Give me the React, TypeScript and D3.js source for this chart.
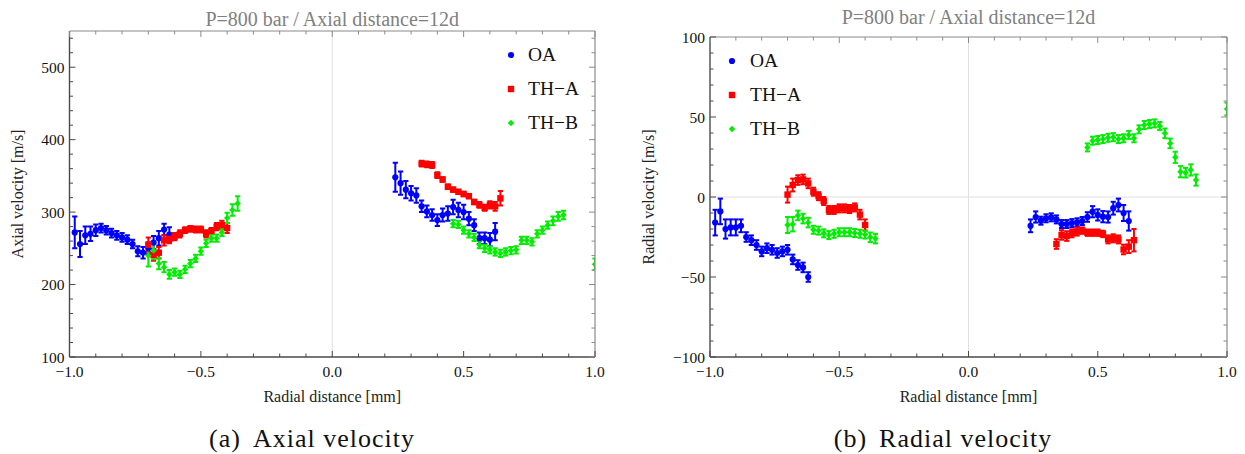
import React from "react";
import * as d3 from "d3";

// ---------- DATA ----------
const xTicks = [-1.0, -0.5, 0.0, 0.5, 1.0];
const axialYTicks = [100, 200, 300, 400, 500];
const radialYTicks = [-100, -50, 0, 50, 100];
const seriesNames = ["OA", "TH−A", "TH−B"];

// Axial velocity panel
const oaAxL_x = [-0.98, -0.96, -0.94, -0.92, -0.9, -0.88, -0.86, -0.84, -0.82, -0.8, -0.78, -0.76, -0.74, -0.72, -0.7, -0.68, -0.66, -0.64, -0.62];
const oaAxL_y = [272, 256, 268, 270, 275, 278, 275, 271, 268, 265, 262, 256, 246, 244, 250, 258, 264, 276, 269];
const oaAxL_e = [22, 18, 12, 10, 8, 6, 6, 6, 6, 6, 6, 6, 7, 8, 8, 9, 10, 8, 10];
const oaAxR_x = [0.24, 0.26, 0.28, 0.3, 0.32, 0.34, 0.36, 0.38, 0.4, 0.42, 0.44, 0.46, 0.48, 0.5, 0.52, 0.54, 0.56, 0.58, 0.6, 0.62];
const oaAxR_y = [348, 340, 331, 326, 323, 308, 301, 296, 289, 296, 298, 307, 303, 300, 291, 282, 264, 264, 262, 273];
const oaAxR_e = [20, 16, 12, 10, 10, 8, 8, 8, 8, 9, 10, 10, 10, 10, 9, 8, 8, 8, 9, 12];

const thAAxL_x = [-0.7, -0.68, -0.66, -0.64, -0.62, -0.6, -0.58, -0.56, -0.54, -0.52, -0.5, -0.48, -0.46, -0.44, -0.42, -0.4];
const thAAxL_y = [255, 241, 244, 261, 263, 266, 270, 275, 277, 276, 276, 270, 274, 280, 282, 278];
const thAAxL_e = [10, 8, 8, 7, 6, 5, 5, 4, 4, 4, 4, 5, 4, 5, 6, 7];
const thAAxR_x = [0.34, 0.36, 0.38, 0.4, 0.42, 0.44, 0.46, 0.48, 0.5, 0.52, 0.54, 0.56, 0.58, 0.6, 0.62, 0.64];
const thAAxR_y = [367, 366, 365, 351, 345, 335, 331, 328, 325, 322, 314, 310, 306, 310, 308, 319];
const thAAxR_e = [4, 4, 4, 4, 3, 3, 3, 3, 3, 3, 3, 4, 4, 5, 6, 10];

const thBAxL_x = [-0.7, -0.68, -0.66, -0.64, -0.62, -0.6, -0.58, -0.56, -0.54, -0.52, -0.5, -0.48, -0.46, -0.44, -0.42, -0.4, -0.38, -0.36];
const thBAxL_y = [240, 247, 229, 224, 214, 217, 214, 221, 229, 236, 246, 257, 264, 264, 272, 292, 303, 312];
const thBAxL_e = [15, 12, 8, 7, 6, 5, 5, 5, 5, 5, 5, 5, 5, 5, 5, 7, 8, 10];
const thBAxR_x = [0.46, 0.48, 0.5, 0.52, 0.54, 0.56, 0.58, 0.6, 0.62, 0.64, 0.66, 0.68, 0.7, 0.72, 0.74, 0.76, 0.78, 0.8, 0.82, 0.84, 0.86, 0.88, 1.0];
const thBAxR_y = [284, 283, 275, 270, 265, 255, 250, 248, 245, 243, 245, 247, 248, 261, 261, 259, 270, 275, 282, 288, 294, 296, 228];
const thBAxR_e = [5, 5, 5, 5, 5, 5, 5, 5, 5, 5, 5, 5, 5, 5, 5, 5, 5, 5, 5, 6, 6, 6, 8];

// Radial velocity panel
const oaRadL_x = oaAxL_x;
const oaRadL_y = [-16, -9, -20, -19, -19, -18, -25, -27, -30, -34, -32, -33, -35, -34, -33, -39, -42.5, -44, -50];
const oaRadL_e = [8, 8, 6, 5, 5, 4, 3, 3, 3, 3, 3, 3, 3, 3, 3, 3, 3, 3, 3];
const oaRadR_x = oaAxR_x;
const oaRadR_y = [-18, -12.5, -14.8, -13.3, -12.7, -14, -16.9, -16.9, -16.3, -15.8, -15, -12.5, -9.2, -11.2, -12.3, -12.5, -7, -5, -10, -15];
const oaRadR_e = [4, 3.5, 2.5, 2.5, 2.5, 2.5, 2.5, 2.5, 2.5, 2.5, 2.5, 3, 3.5, 3.5, 3.5, 3.5, 4, 4, 5, 6];

const thARadL_x = thAAxL_x;
const thARadL_y = [1.5, 7.5, 10.6, 11, 8.5, 3.3, 0.5, -2.5, -8.1, -8.1, -7.1, -7.1, -7.5, -6.5, -11, -17.5];
const thARadL_e = [5, 4, 3, 3, 3, 2.5, 2.5, 2.5, 2.5, 2.5, 2.5, 2.5, 2.5, 2.5, 3, 3.5];
const thARadR_x = thAAxR_x;
const thARadR_y = [-29.4, -23.7, -24.4, -22.7, -21.6, -21, -22.3, -22.3, -22.3, -23.1, -26.5, -25.8, -26.5, -32.8, -31, -27];
const thARadR_e = [3, 3, 3, 2.5, 2.5, 2, 2, 2, 2, 2, 2.5, 2.5, 2.5, 3, 4, 7];

const thBRadL_x = thBAxL_x;
const thBRadL_y = [-17.5, -17, -11.5, -13.5, -16, -20.5, -21, -22.7, -23.8, -23, -22, -22, -22, -22.5, -23, -23.5, -25.2, -26];
const thBRadL_e = [5, 4.5, 3, 3, 3, 2.5, 2.5, 2.5, 2.5, 2.5, 2.5, 2.5, 2.5, 2.5, 2.5, 2.5, 3, 3];
const thBRadR_x = thBAxR_x;
const thBRadR_y = [31, 35.2, 35.6, 36.2, 37, 37.4, 36.2, 36.7, 38.8, 36.7, 42.3, 45, 45.6, 46, 44.4, 39.8, 33.5, 24.8, 15.8, 15.2, 16.9, 10.6, 55];
const thBRadR_e = [2.5, 2.5, 2.5, 2.5, 2.5, 2.5, 2.5, 2.5, 2.5, 2.5, 2.5, 2.5, 2.5, 2.5, 2.5, 3, 3, 3.5, 3.5, 3, 3.5, 3.5, 4];

// ---------- RENDER ----------
type Pt = { x: number; y: number; e: number };
const zip = (xs: number[], ys: number[], es: number[]): Pt[] => xs.map((x, i) => ({ x, y: ys[i], e: es[i] }));

const COLORS = ["#0000ff", "#ff0000", "#00ee00"];
const FONT = "Liberation Serif, Times New Roman, serif";
const fontStyle = { fontFamily: FONT } as React.CSSProperties;

interface PanelProps {
  id: string;
  frame: { x0: number; x1: number; y0: number; y1: number };
  yDomain: [number, number];
  yTicks: number[];
  yMinor: number;
  series: Pt[][];
  titleY: number;
  ylabel: string;
  ylabelX: number;
  legend: { mx: number; tx: number; ys: number[] };
  caption: [string, string];
  captionX: number;
  zeroH: boolean;
}

function Marker({ kind, x, y, color }: { kind: number; x: number; y: number; color: string }) {
  if (kind === 0) return <circle cx={x} cy={y} r={3.1} fill={color} />;
  if (kind === 1) return <rect x={x - 3.2} y={y - 3.2} width={6.4} height={6.4} fill={color} />;
  const s = 3.2;
  return <path d={`M${x},${y - s}L${x + s},${y}L${x},${y + s}L${x - s},${y}Z`} fill={color} />;
}

function Panel(p: PanelProps) {
  const { x0, x1, y0, y1 } = p.frame;
  const xs = d3.scaleLinear().domain([-1, 1]).range([x0, x1]);
  const ys = d3.scaleLinear().domain(p.yDomain).range([y1, y0]);
  const xMinor = d3.range(-1, 1.0001, 0.1);
  const yMinor = d3.range(p.yDomain[0], p.yDomain[1] + 1e-6, p.yMinor);
  const dark = "#4a4a4a";
  const light = "#8a8a8a";
  const fmtX = (v: number) => (v < 0 ? "−" : "") + Math.abs(v).toFixed(1);
  const fmtY = (v: number) => (v < 0 ? "−" : "") + Math.abs(v).toString();
  const isMajorX = (v: number) => xTicks.some((t) => Math.abs(t - v) < 1e-6);
  const isMajorY = (v: number) => p.yTicks.some((t) => Math.abs(t - v) < 1e-6);
  const cx = (x0 + x1) / 2;
  return (
    <g style={fontStyle}>
      <defs>
        <clipPath id={p.id}>
          <rect x={x0} y={y0} width={x1 - x0} height={y1 - y0} />
        </clipPath>
      </defs>
      {/* zero lines */}
      <line x1={xs(0)} x2={xs(0)} y1={y0} y2={y1} stroke="#e0e0e0" strokeWidth={1} />
      {p.zeroH && <line x1={x0} x2={x1} y1={ys(0)} y2={ys(0)} stroke="#e0e0e0" strokeWidth={1} />}
      {/* data */}
      <g clipPath={`url(#${p.id})`}>
        {p.series.map((pts, k) =>
          pts.map((d, i) => {
            const px = xs(d.x);
            const pt = ys(d.y + d.e);
            const pb = ys(d.y - d.e);
            return (
              <g key={`${k}-${i}`} stroke={COLORS[k]} strokeWidth={2}>
                <line x1={px} x2={px} y1={pt} y2={pb} />
                <line x1={px - 2.6} x2={px + 2.6} y1={pt} y2={pt} />
                <line x1={px - 2.6} x2={px + 2.6} y1={pb} y2={pb} />
              </g>
            );
          })
        )}
        {p.series.map((pts, k) =>
          pts.map((d, i) => <Marker key={`m${k}-${i}`} kind={k} x={xs(d.x)} y={ys(d.y)} color={COLORS[k]} />)
        )}
      </g>
      {/* frame */}
      <line x1={x0} x2={x1} y1={y0} y2={y0} stroke={light} strokeWidth={1.2} />
      <line x1={x1} x2={x1} y1={y0} y2={y1} stroke={light} strokeWidth={1.2} />
      <line x1={x0} x2={x0} y1={y0} y2={y1} stroke={dark} strokeWidth={1.4} />
      <line x1={x0} x2={x1} y1={y1} y2={y1} stroke={dark} strokeWidth={1.4} />
      {/* ticks */}
      {xMinor.map((v, i) => {
        const L = isMajorX(v) ? 6 : 3.5;
        const px = xs(v);
        return (
          <g key={`xt${i}`}>
            <line x1={px} x2={px} y1={y1} y2={y1 - L} stroke={dark} strokeWidth={1} />
            <line x1={px} x2={px} y1={y0} y2={y0 + L} stroke={light} strokeWidth={1} />
          </g>
        );
      })}
      {yMinor.map((v, i) => {
        const L = isMajorY(v) ? 6 : 3.5;
        const py = ys(v);
        return (
          <g key={`yt${i}`}>
            <line x1={x0} x2={x0 + L} y1={py} y2={py} stroke={dark} strokeWidth={1} />
            <line x1={x1} x2={x1 - L} y1={py} y2={py} stroke={light} strokeWidth={1} />
          </g>
        );
      })}
      {/* tick labels */}
      {xTicks.map((v, i) => (
        <text key={`xl${i}`} x={xs(v)} y={y1 + 20} textAnchor="middle" style={fontStyle} fontSize={15.5} fill="#111">
          {fmtX(v)}
        </text>
      ))}
      {p.yTicks.map((v, i) => (
        <text key={`yl${i}`} x={x0 - 5} y={ys(v) + 5.5} textAnchor="end" style={fontStyle} fontSize={15.5} fill="#111">
          {fmtY(v)}
        </text>
      ))}
      {/* titles */}
      <text x={cx} y={p.titleY} textAnchor="middle" style={fontStyle} fontSize={20} fill="#808080">
        P=800 bar / Axial distance=12d
      </text>
      <text x={cx} y={402} textAnchor="middle" style={fontStyle} fontSize={16} fill="#222">
        Radial distance [mm]
      </text>
      <text
        transform={`translate(${p.ylabelX},${(y0 + y1) / 2}) rotate(-90)`}
        textAnchor="middle"
        style={fontStyle}
        fontSize={16}
        fill="#222"
      >
        {p.ylabel}
      </text>
      {/* legend */}
      {seriesNames.map((n, k) => (
        <g key={`lg${k}`}>
          <Marker kind={k} x={p.legend.mx} y={p.legend.ys[k]} color={COLORS[k]} />
          <text x={p.legend.tx} y={p.legend.ys[k] + 6.3} style={fontStyle} fontSize={19.5} fill="#111">
            {n}
          </text>
        </g>
      ))}
      {/* caption */}
      <text x={p.captionX} y={447} textAnchor="middle" style={{ ...fontStyle, letterSpacing: "1px" }} fontSize={26} fill="#111">
        <tspan>{p.caption[0]}</tspan>
        <tspan dx={12}>{p.caption[1]}</tspan>
      </text>
    </g>
  );
}

export default function App() {
  const axialSeries = [
    [...zip(oaAxL_x, oaAxL_y, oaAxL_e), ...zip(oaAxR_x, oaAxR_y, oaAxR_e)],
    [...zip(thAAxL_x, thAAxL_y, thAAxL_e), ...zip(thAAxR_x, thAAxR_y, thAAxR_e)],
    [...zip(thBAxL_x, thBAxL_y, thBAxL_e), ...zip(thBAxR_x, thBAxR_y, thBAxR_e)],
  ];
  const radialSeries = [
    [...zip(oaRadL_x, oaRadL_y, oaRadL_e), ...zip(oaRadR_x, oaRadR_y, oaRadR_e)],
    [...zip(thARadL_x, thARadL_y, thARadL_e), ...zip(thARadR_x, thARadR_y, thARadR_e)],
    [...zip(thBRadL_x, thBRadL_y, thBRadL_e), ...zip(thBRadR_x, thBRadR_y, thBRadR_e)],
  ];
  return (
    <svg
      width={1245}
      height={454}
      viewBox="0 0 1245 454"
      style={{ position: "absolute", left: 0, top: 0, background: "#fff" }}
    >
      <rect width={1245} height={454} fill="#fff" />
      <Panel
        id="clipA"
        frame={{ x0: 69.5, x1: 595, y0: 31, y1: 357 }}
        yDomain={[100, 550]}
        yTicks={axialYTicks}
        yMinor={20}
        series={axialSeries}
        titleY={26}
        ylabel="Axial velocity [m/s]"
        ylabelX={23}
        legend={{ mx: 511, tx: 528, ys: [55, 89, 123] }}
        caption={["(a)", "Axial velocity"]}
        captionX={312}
        zeroH={false}
      />
      <Panel
        id="clipB"
        frame={{ x0: 710, x1: 1227, y0: 37, y1: 357 }}
        yDomain={[-100, 100]}
        yTicks={radialYTicks}
        yMinor={10}
        series={radialSeries}
        titleY={24}
        ylabel="Radial velocity [m/s]"
        ylabelX={654}
        legend={{ mx: 732, tx: 750, ys: [61, 95, 129] }}
        caption={["(b)", "Radial velocity"]}
        captionX={943}
        zeroH={true}
      />
    </svg>
  );
}
